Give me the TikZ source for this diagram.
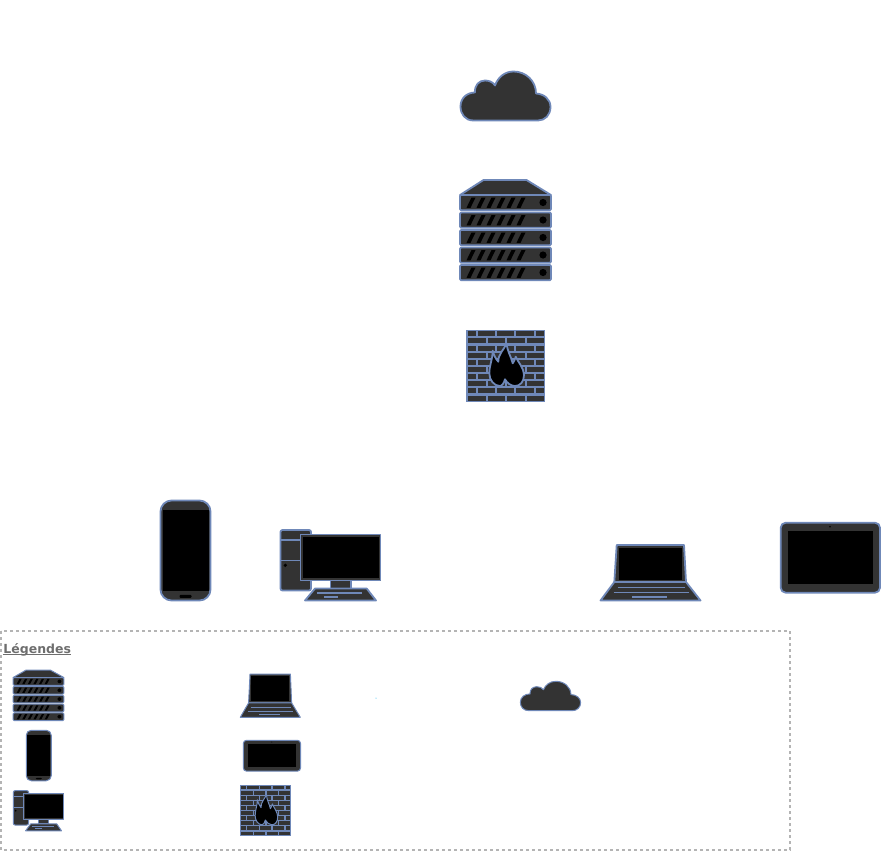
\documentclass[tikz,border=0pt]{standalone}
\usepackage{fontspec}
\setmainfont{DejaVu Sans}
\usepackage{tikz}
\definecolor{icon_dark}{HTML}{333333}
\definecolor{icon_line}{HTML}{6F88B8}
\definecolor{legend_grey}{HTML}{6E6E6E}
\definecolor{frame_grey}{HTML}{B4B4B4}
\tikzset{
	icon_body/.style={draw=icon_line,fill=icon_dark,line join=round},
	icon_screen/.style={fill=black},
	phone_corner/.style={rounded corners=11},
	tablet_corner/.style={rounded corners=5},
	cloud_icon/.pic={
		\draw [icon_body] (13.5,49.5) .. controls (5,49.5) and (0.5,43) .. (0.5,35.5)
			.. controls (0.5,27) and (7,21.5) .. (15,21.5)
			.. controls (14.5,14) and (19,9.5) .. (25,9.5)
			.. controls (29,9.5) and (33,11) .. (35,14.5)
			.. controls (38,6) and (45,0.5) .. (53.5,0.5)
			.. controls (66,0.5) and (76,10) .. (76,22.5)
			.. controls (84,23) and (90.5,28) .. (90.5,36)
			.. controls (90.5,44) and (85,49.5) .. (78,49.5) -- cycle;
	},
	server_icon/.pic={
		\draw [icon_body] (0,15) -- (23.5,0) -- (66.5,0) -- (91,15) -- cycle;
		\foreach \row in {15,32.5,50,67.5,85} {
			\draw [icon_body,rounded corners=1.2] (0,\row) rectangle (91,\row+15.3);
			\foreach \slash in {0,...,5}
				\fill [black] (6.5+\slash*10,\row+12.8) -- (10.5+\slash*10,\row+12.8) -- (15.5+\slash*10,\row+2.5) -- (11.5+\slash*10,\row+2.5) -- cycle;
			\fill [black] (83,\row+7.5) circle (3.6);
		}
	},
	firewall_icon/.pic={
		\fill [icon_line] (0,0) rectangle (79,72);
		\foreach \row in {0,2,4,6,8} {
			\foreach \from/\to in {1.5/9.5,11.5/29,31/48,50/68,70/77.5}
				\fill [icon_dark] (\from,\row*7.15+1.2) rectangle (\to,\row*7.15+6.2);
			\foreach \from/\to in {1.5/19.5,21.5/39,41/58.5,60.5/77.5}
				\fill [icon_dark] (\from,\row*7.15+8.4) rectangle (\to,\row*7.15+13.4);
		}
		\draw [draw=icon_line,fill=black,line join=round] (26.7,20.7) .. controls (28,25) and (29,28) .. (32.3,31.7)
			.. controls (32,24) and (38,20) .. (40.7,13.3)
			.. controls (41,21) and (45,26) .. (46.7,33.3)
			.. controls (48,31) and (49.5,29) .. (49.7,26.7)
			.. controls (52,32) and (58,38) .. (58,45)
			.. controls (58,52) and (54,56) .. (49,56)
			.. controls (45,56) and (41,53) .. (39,49.3)
			.. controls (38,53) and (36,56) .. (34,56)
			.. controls (28,56) and (23.3,50) .. (23.3,43.3)
			.. controls (23.3,35) and (27,28) .. (26.7,20.7) -- cycle;
	},
	phone_icon/.pic={
		\draw [icon_body,phone_corner] (0.5,0.5) rectangle (50.5,100.5);
		\fill [icon_screen] (2.5,9.5) rectangle (48.5,91);
		\fill [black,rounded corners=1] (19.5,94.8) rectangle (31.5,97.8);
	},
	desktop_icon/.pic={
		\draw [icon_body,rounded corners=2] (0.5,1) rectangle (31,61.5);
		\draw [icon_line] (0.5,11) -- (20,11) (0.5,31.5) -- (20,31.5);
		\fill [black] (5.3,36.3) circle (1.8);
		\draw [icon_body] (50.5,51.5) rectangle (71,59.5);
		\draw [icon_body] (35,59.5) -- (86.7,59.5) -- (96,71.5) -- (25,71.5) -- cycle;
		\draw [icon_line] (37,64) -- (82,64) (44,68) -- (58,68);
		\draw [icon_body] (20.5,5.5) rectangle (100.5,51.5);
		\fill [icon_screen] (23,8) rectangle (98.5,49);
	},
	laptop_icon/.pic={
		\draw [icon_body] (16.7,0) -- (84,0) -- (86,37) -- (14.3,37) -- cycle;
		\fill [icon_screen] (18.7,2.5) rectangle (81.7,34.5);
		\draw [icon_body] (14.3,37) -- (86,37) -- (100.5,55.5) -- (0.5,55.5) -- cycle;
		\draw [icon_line] (17.5,42.5) -- (85,42.5) (13.5,47.5) -- (89,47.5) (32,51.7) -- (66.5,51.7);
	},
	tablet_icon/.pic={
		\draw [icon_body,tablet_corner] (0.7,0.7) rectangle (100,70.7);
		\fill [icon_screen] (8.3,9) rectangle (92.7,62.3);
		\fill [black] (50,4.7) circle (0.9);
	},
}
\begin{document}
\begin{tikzpicture}[x=1pt,y=-1pt,line width=1.8pt]
	\tikzstyle{legend_frame}=[draw=frame_grey,line width=1.2pt,dash pattern=on 3pt off 3pt]
	\tikzstyle{legend_title}=[anchor=base west,inner sep=0pt,text=legend_grey,font=\fontsize{12.5}{15}\selectfont\bfseries]
	\useasboundingbox (0,0) rectangle (882,851);
	% main icons
	\pic (cloud) at (460,71) {cloud_icon};
	\pic (server) at (460,180) {server_icon};
	\pic (firewall) at (466,330) {firewall_icon};
	\pic (phone) at (160,500) {phone_icon};
	\pic (desktop) at (280,529) {desktop_icon};
	\pic (laptop) at (600,545) {laptop_icon};
	\pic (tablet) at (780,522) {tablet_icon};
	% legend
	\draw [legend_frame] (1,631) rectangle (790,850);
	\node [legend_title] (legend) at (2.5,653) {\underbar{Légendes}};
	\begin{scope}[line width=1pt,phone_corner/.style={rounded corners=5},tablet_corner/.style={rounded corners=3}]
		\pic [xscale=.56,yscale=.505] (l_server) at (13,670) {server_icon};
		\pic [xscale=.5,yscale=.505] (l_phone) at (26,730) {phone_icon};
		\pic [xscale=.505,yscale=.57] (l_desktop) at (13,790) {desktop_icon};
		\pic [xscale=.6,yscale=.78] (l_laptop) at (240,674) {laptop_icon};
		\pic [xscale=.575,yscale=.44] (l_tablet) at (243,740) {tablet_icon};
		\pic [xscale=.65,yscale=.71] (l_firewall) at (240,785) {firewall_icon};
		\pic [xscale=.67,yscale=.6] (l_cloud) at (520,681) {cloud_icon};
	\end{scope}
	\fill [cyan] (376,698) circle (.5);
\end{tikzpicture}
\end{document}
